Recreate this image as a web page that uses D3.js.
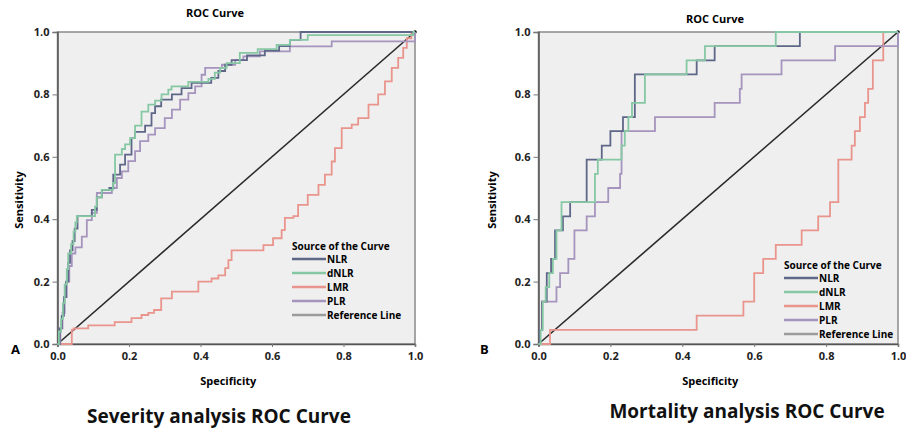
<!DOCTYPE html>
<html>
<head>
<meta charset="utf-8">
<script src="https://cdn.jsdelivr.net/npm/d3@7"></script>
<style>
  body { margin: 0; background: #fff; }
  text { font-family: "Open Sans", "Liberation Sans", sans-serif; }
</style>
</head>
<body>
<script>
// canvas size
const w = 906
const h = 432

// series names, colours and tick values
const seriesNames = ['NLR', 'dNLR', 'LMR', 'PLR']
const legendNames = ['NLR', 'dNLR', 'LMR', 'PLR', 'Reference Line']
const seriesColors = ['#5f6789', '#86c8a4', '#e9958d', '#a594bd']
const refLegendColor = '#9b9b9b'
const ticks = [0.0, 0.2, 0.4, 0.6, 0.8, 1.0]

// severity panel: [1 - specificity, sensitivity] step corners
const sevNLR = [[0,0],[0.006,0.05],[0.012,0.09],[0.018,0.15],[0.024,0.2],[0.03,0.26],[0.035,0.3],[0.042,0.33],[0.048,0.37],[0.056,0.41],[0.096,0.43],[0.11,0.47],[0.124,0.494],[0.145,0.5],[0.156,0.543],[0.175,0.575],[0.189,0.607],[0.207,0.66],[0.217,0.68],[0.245,0.7],[0.263,0.74],[0.273,0.762],[0.29,0.783],[0.32,0.8],[0.347,0.82],[0.375,0.837],[0.43,0.853],[0.45,0.875],[0.469,0.895],[0.487,0.91],[0.53,0.925],[0.58,0.94],[0.62,0.955],[0.65,0.975],[0.68,1],[1,1]]
const sevDNLR = [[0,0],[0.004,0.04],[0.01,0.08],[0.015,0.13],[0.02,0.19],[0.026,0.24],[0.03,0.29],[0.038,0.32],[0.045,0.36],[0.05,0.39],[0.054,0.41],[0.105,0.44],[0.11,0.47],[0.124,0.494],[0.155,0.516],[0.161,0.607],[0.18,0.625],[0.189,0.64],[0.203,0.66],[0.217,0.7],[0.235,0.745],[0.254,0.767],[0.273,0.78],[0.291,0.8],[0.31,0.815],[0.319,0.826],[0.366,0.84],[0.422,0.85],[0.44,0.87],[0.455,0.885],[0.473,0.9],[0.51,0.933],[0.56,0.945],[0.613,0.959],[0.65,0.975],[0.7,0.99],[0.995,1],[1,1]]
const sevLMR = [[0,0],[0.04,0.045],[0.045,0.05],[0.086,0.06],[0.16,0.07],[0.207,0.083],[0.235,0.093],[0.254,0.1],[0.27,0.109],[0.29,0.146],[0.32,0.168],[0.394,0.2],[0.431,0.21],[0.45,0.22],[0.469,0.243],[0.478,0.269],[0.487,0.3],[0.576,0.317],[0.603,0.339],[0.627,0.365],[0.636,0.404],[0.66,0.41],[0.673,0.446],[0.7,0.478],[0.73,0.51],[0.748,0.543],[0.767,0.585],[0.776,0.628],[0.795,0.692],[0.823,0.703],[0.841,0.724],[0.87,0.767],[0.897,0.8],[0.916,0.842],[0.935,0.885],[0.953,0.917],[0.967,0.949],[0.977,0.98],[0.99,1],[1,1]]
const sevPLR = [[0,0],[0.008,0.05],[0.014,0.1],[0.02,0.15],[0.026,0.2],[0.033,0.25],[0.04,0.29],[0.05,0.31],[0.068,0.344],[0.082,0.397],[0.096,0.42],[0.11,0.484],[0.152,0.5],[0.166,0.532],[0.18,0.553],[0.198,0.586],[0.217,0.618],[0.231,0.65],[0.254,0.671],[0.273,0.692],[0.3,0.724],[0.32,0.751],[0.343,0.783],[0.366,0.804],[0.385,0.826],[0.403,0.863],[0.413,0.885],[0.46,0.895],[0.497,0.91],[0.52,0.922],[0.566,0.938],[0.65,0.954],[0.767,0.97],[1,1]]

// mortality panel
const morNLR = [[0,0],[0.004,0.045],[0.01,0.136],[0.023,0.227],[0.035,0.273],[0.046,0.364],[0.068,0.409],[0.088,0.455],[0.134,0.591],[0.176,0.636],[0.2,0.682],[0.235,0.727],[0.268,0.864],[0.44,0.909],[0.49,0.955],[0.727,1],[1,1]]
const morDNLR = [[0,0],[0.006,0.045],[0.012,0.136],[0.02,0.182],[0.03,0.227],[0.04,0.273],[0.05,0.364],[0.064,0.455],[0.157,0.545],[0.165,0.591],[0.231,0.636],[0.24,0.682],[0.25,0.727],[0.26,0.773],[0.296,0.864],[0.412,0.909],[0.463,0.955],[0.66,1],[1,1]]
const morLMR = [[0,0],[0.032,0.045],[0.44,0.091],[0.57,0.136],[0.6,0.227],[0.625,0.273],[0.66,0.318],[0.732,0.364],[0.778,0.409],[0.811,0.455],[0.834,0.591],[0.871,0.636],[0.88,0.682],[0.894,0.727],[0.908,0.773],[0.917,0.818],[0.93,0.909],[0.959,1],[1,1]]
const morPLR = [[0,0],[0.004,0.045],[0.01,0.136],[0.05,0.182],[0.06,0.227],[0.083,0.273],[0.1,0.364],[0.134,0.409],[0.157,0.455],[0.194,0.5],[0.227,0.545],[0.231,0.682],[0.324,0.727],[0.49,0.773],[0.56,0.818],[0.565,0.864],[0.676,0.909],[0.825,0.955],[1,1]]

const svg = d3.select('body')
    .append('svg')
    .attr('width', w)
    .attr('height', h)

function drawPanel(p) {
    const x = d3.scaleLinear().domain([0, 1]).range([p.left, p.right])
    const y = d3.scaleLinear().domain([0, 1]).range([p.bottom, p.top])
    const g = svg.append('g')

    // plot background and frame
    g.append('rect')
        .attr('x', x(0)).attr('y', y(1))
        .attr('width', x(1) - x(0)).attr('height', y(0) - y(1))
        .style('fill', '#efefef')
        .style('stroke', '#8a8a8a')
        .style('stroke-width', 1.5)

    // axes
    const yAxis = g.append('g')
        .attr('transform', `translate(${x(0)},0)`)
        .call(d3.axisLeft(y).tickValues(ticks).tickFormat(d3.format('.1f')).tickSize(5).tickPadding(3))
    const xAxis = g.append('g')
        .attr('transform', `translate(0,${y(0)})`)
        .call(d3.axisBottom(x).tickValues(ticks).tickFormat(d3.format('.1f')).tickSize(3).tickPadding(5))
    ;[yAxis, xAxis].forEach(a => {
        a.select('.domain').style('stroke', '#555').style('stroke-width', 1.5)
        a.selectAll('.tick line').style('stroke', '#777')
        a.selectAll('text')
            .style('font-size', '11px')
            .style('font-weight', 'bold')
            .style('fill', '#222')
    })

    // reference diagonal
    g.append('line')
        .attr('x1', x(0)).attr('y1', y(0))
        .attr('x2', x(1)).attr('y2', y(1))
        .style('stroke', '#2a2a2a')
        .style('stroke-width', 1.6)
    g.append('circle')
        .attr('cx', x(1)).attr('cy', y(1)).attr('r', 1.8)
        .style('fill', '#111')

    // curves (LMR first, then others on top)
    const line = d3.line()
        .x(d => x(d[0]))
        .y(d => y(d[1]))
        .curve(d3.curveStepAfter)
    const order = [2, 3, 0, 1]
    order.forEach(i => {
        g.append('path')
            .datum(p.series[i])
            .attr('d', line)
            .style('fill', 'none')
            .style('stroke', seriesColors[i])
            .style('stroke-width', 1.8)
    })

    // titles
    g.append('text')
        .attr('x', p.titleX).attr('y', p.titleY)
        .attr('text-anchor', 'middle')
        .style('font-size', '11px').style('font-weight', 'bold')
        .text('ROC Curve')
    g.append('text')
        .attr('x', (x(0) + x(1)) / 2 - 8).attr('y', 385)
        .attr('text-anchor', 'middle')
        .style('font-size', '11px').style('font-weight', 'bold')
        .text('Specificity')
    g.append('text')
        .attr('transform', `translate(${p.ylabX},${p.ylabY}) rotate(-90)`)
        .attr('text-anchor', 'middle')
        .style('font-size', '11px').style('font-weight', 'bold')
        .text('Sensitivity')
    g.append('text')
        .attr('x', p.letterX).attr('y', 354)
        .style('font-size', '13px').style('font-weight', 'bold')
        .text(p.letter)
    g.append('text')
        .attr('x', p.capX).attr('y', p.capY)
        .attr('text-anchor', 'middle')
        .style('font-size', '19px').style('font-weight', 'bold')
        .style('fill', '#111')
        .text(p.caption)

    // legend
    const lg = g.append('g').attr('transform', `translate(${p.legX},${p.legY})`)
    lg.append('text')
        .attr('x', 0).attr('y', 4)
        .style('font-size', '10px').style('font-weight', 'bold')
        .text('Source of the Curve')
    legendNames.forEach((name, i) => {
        const yy = 13 + i * 14
        lg.append('line')
            .attr('x1', 0).attr('x2', 34)
            .attr('y1', yy).attr('y2', yy)
            .style('stroke', i < 4 ? seriesColors[i] : refLegendColor)
            .style('stroke-width', 2.5)
        lg.append('text')
            .attr('x', 35).attr('y', yy + 4)
            .style('font-size', '10px').style('font-weight', 'bold')
            .text(name)
    })
}

drawPanel({
    left: 57.5, right: 415, top: 32, bottom: 344,
    series: [sevNLR, sevDNLR, sevLMR, sevPLR],
    titleX: 215, titleY: 17,
    ylabX: 23, ylabY: 200,
    letter: 'A', letterX: 11,
    caption: 'Severity analysis ROC Curve', capX: 219, capY: 423,
    legX: 292, legY: 246
})

drawPanel({
    left: 538.5, right: 898, top: 32, bottom: 344,
    series: [morNLR, morDNLR, morLMR, morPLR],
    titleX: 715, titleY: 23,
    ylabX: 496, ylabY: 200,
    letter: 'B', letterX: 480,
    caption: 'Mortality analysis ROC Curve', capX: 747, capY: 418,
    legX: 784, legY: 265
})
</script>
</body>
</html>
